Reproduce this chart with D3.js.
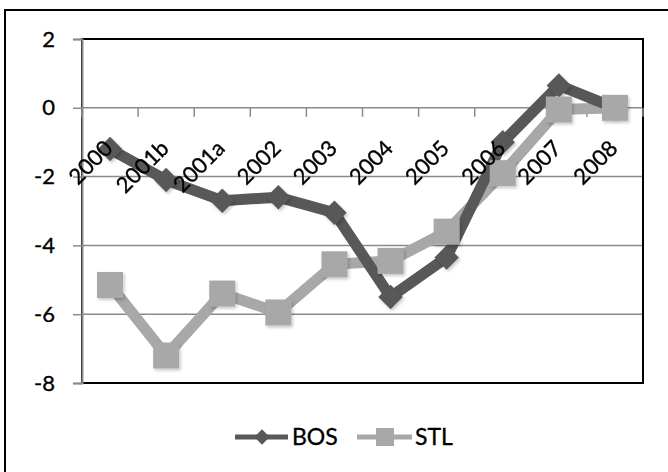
<!DOCTYPE html>
<html>
<head>
<meta charset="utf-8">
<script src="https://cdn.jsdelivr.net/npm/d3@7/dist/d3.min.js"></script>
<style>
  html, body { margin: 0; padding: 0; background: #fff; }
  svg { display: block; }
  text { font-family: Lato, "Open Sans", sans-serif; fill: #000; stroke: #000; stroke-width: 0.35px; }
</style>
</head>
<body>
<script>
// Category labels along the x axis
const categories = ["2000", "2001b", "2001a", "2002", "2003", "2004", "2005", "2006", "2007", "2008"];
// Series values
const bosValues = [-1.2, -2.1, -2.7, -2.6, -3.05, -5.5, -4.35, -1.0, 0.65, 0];
const stlValues = [-5.15, -7.2, -5.4, -5.95, -4.55, -4.45, -3.6, -1.9, -0.05, 0];
// Value axis ticks
const yTicks = [2, 0, -2, -4, -6, -8];
const seriesNames = ["BOS", "STL"];

const W = 668, H = 472;
const plot = { left: 82, right: 643, top: 39, bottom: 383 };
const colBOS = "#585858", colSTL = "#a8a8a8", gridCol = "#8a8a8a";
const fontSize = 22;

const svg = d3.select("body").append("svg").attr("width", W).attr("height", H);

const defs = svg.append("defs");
const f = defs.append("filter").attr("id", "shadow")
  .attr("x", "-50%").attr("y", "-50%").attr("width", "200%").attr("height", "200%");
f.append("feDropShadow").attr("dx", 1.5).attr("dy", 2).attr("stdDeviation", 1.8)
  .attr("flood-color", "#000").attr("flood-opacity", 0.22);

// Chart frame
svg.append("rect").attr("x", 5).attr("y", 10).attr("width", 720).attr("height", 520)
  .attr("fill", "#fff").attr("stroke", "#000").attr("stroke-width", 2);

const x = d3.scaleBand().domain(categories).range([plot.left, plot.right]);
const y = d3.scaleLinear().domain([-8, 2]).range([plot.bottom, plot.top]);
const cx = c => x(c) + x.bandwidth() / 2;

// Horizontal gridlines
svg.append("g").selectAll("line").data(yTicks).join("line")
  .attr("x1", plot.left).attr("x2", plot.right)
  .attr("y1", d => y(d)).attr("y2", d => y(d))
  .attr("stroke", gridCol).attr("stroke-width", 1.5);

// Plot area border
svg.append("rect").attr("x", plot.left).attr("y", plot.top)
  .attr("width", plot.right - plot.left).attr("height", plot.bottom - plot.top)
  .attr("fill", "none").attr("stroke", "#000").attr("stroke-width", 2);

// Value axis (plain hyphen for negatives)
const yAxis = d3.axisLeft(y).tickValues(yTicks).tickSize(9).tickPadding(18)
  .tickFormat(d => String(d));
const gy = svg.append("g").attr("transform", `translate(${plot.left},0)`).call(yAxis);
gy.select(".domain").attr("stroke", gridCol).attr("stroke-width", 2);
gy.selectAll(".tick line").attr("stroke", gridCol).attr("stroke-width", 1.5);
gy.selectAll(".tick text").attr("font-size", fontSize).style("font-family", "Lato, sans-serif")
  .attr("fill", "#000");

// Category axis crossing at zero
const y0 = y(0);
const boundaries = d3.range(categories.length + 1).map(i => plot.left + i * x.step());
svg.append("g").selectAll("line").data(boundaries).join("line")
  .attr("x1", d => d).attr("x2", d => d)
  .attr("y1", y0).attr("y2", y0 + 9)
  .attr("stroke", gridCol).attr("stroke-width", 1.5);

// Series lines
const line = d3.line().x((d, i) => cx(categories[i])).y(d => y(d));
svg.append("path").datum(stlValues).attr("d", line)
  .attr("fill", "none").attr("stroke", colSTL).attr("stroke-width", 11)
  .attr("stroke-linejoin", "round");
svg.append("path").datum(bosValues).attr("d", line)
  .attr("fill", "none").attr("stroke", colBOS).attr("stroke-width", 11)
  .attr("stroke-linejoin", "round");

// Markers
const diamond = d3.symbol().type(d3.symbolDiamond2).size(380);
svg.append("g").attr("filter", "url(#shadow)").selectAll("path").data(bosValues).join("path")
  .attr("d", diamond)
  .attr("transform", (d, i) => `translate(${cx(categories[i])},${y(d)})`)
  .attr("fill", colBOS);
const sq = 26;
svg.append("g").attr("filter", "url(#shadow)").selectAll("rect").data(stlValues).join("rect")
  .attr("x", (d, i) => cx(categories[i]) - sq / 2).attr("y", d => y(d) - sq / 2)
  .attr("width", sq).attr("height", sq)
  .attr("fill", colSTL);

// Category labels
svg.append("g").selectAll("text").data(categories).join("text")
  .attr("transform", c => `translate(${cx(c) + 4},${y0 + 42}) rotate(-45)`)
  .attr("text-anchor", "end")
  .attr("font-size", fontSize)
  .text(c => c);

// Legend
const ly = 437;
const lg = svg.append("g");
lg.append("line").attr("x1", 235).attr("x2", 288).attr("y1", ly).attr("y2", ly)
  .attr("stroke", colBOS).attr("stroke-width", 5);
lg.append("path").attr("d", d3.symbol().type(d3.symbolDiamond2).size(150))
  .attr("transform", `translate(262,${ly})`).attr("fill", colBOS);
lg.append("text").attr("x", 292).attr("y", ly).attr("dy", "0.36em")
  .attr("font-size", fontSize + 1).text(seriesNames[0]);
lg.append("line").attr("x1", 357).attr("x2", 412).attr("y1", ly).attr("y2", ly)
  .attr("stroke", colSTL).attr("stroke-width", 5);
lg.append("rect").attr("x", 385 - 9).attr("y", ly - 9).attr("width", 18).attr("height", 18)
  .attr("fill", colSTL);
lg.append("text").attr("x", 415).attr("y", ly).attr("dy", "0.36em")
  .attr("font-size", fontSize + 1).text(seriesNames[1]);
</script>
</body>
</html>
